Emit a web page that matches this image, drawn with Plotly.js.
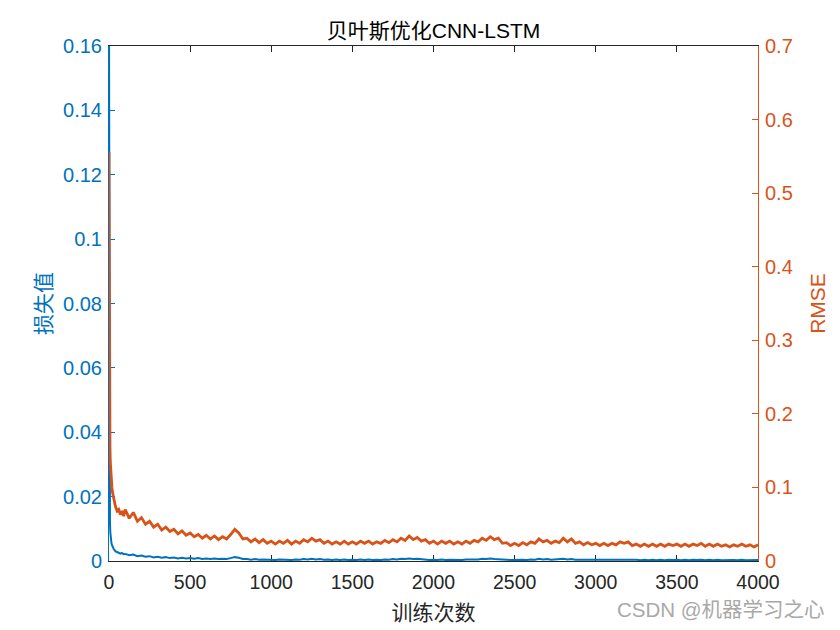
<!DOCTYPE html>
<html>
<head>
<meta charset="utf-8">
<script src="https://cdn.plot.ly/plotly-3.0.1.min.js"></script>
<style>html,body{margin:0;padding:0;background:#fff;}#chart{width:840px;height:630px;}</style>
</head>
<body>
<div id="chart"></div>
<script>
// Training iterations (x values)
const iterations = [
  0,1,2,3,4,5,6,8,10,12,15,18,21,25,30,35,40,50,60,70,80,90,
  100,125,150,175,200,225,250,275,300,325,350,375,400,425,450,475,500,525,550,575,
  600,625,650,675,700,725,750,775,800,825,850,875,900,925,950,975,1000,1025,1050,1075,
  1100,1125,1150,1175,1200,1225,1250,1275,1300,1325,1350,1375,1400,1425,1450,1475,1500,1525,1550,1575,
  1600,1625,1650,1675,1700,1725,1750,1775,1800,1825,1850,1875,1900,1925,1950,1975,2000,2025,2050,2075,
  2100,2125,2150,2175,2200,2225,2250,2275,2300,2325,2350,2375,2400,2425,2450,2475,2500,2525,2550,2575,
  2600,2625,2650,2675,2700,2725,2750,2775,2800,2825,2850,2875,2900,2925,2950,2975,3000,3025,3050,3075,
  3100,3125,3150,3175,3200,3225,3250,3275,3300,3325,3350,3375,3400,3425,3450,3475,3500,3525,3550,3575,
  3600,3625,3650,3675,3700,3725,3750,3775,3800,3825,3850,3875,3900,3925,3950,3975,4000
];
// Loss values (left axis)
const lossValues = [
  0.17,0.07,0.04,0.028,0.02,0.015,0.012,0.009,0.0075,0.0065,0.0056,0.005,0.0045,0.0041,0.0036,0.0034,0.003,0.0028,0.0026,0.0023,0.0025,0.0021,
  0.0022,0.0018,0.0020,0.0015,0.0017,0.0013,0.0015,0.0011,0.0013,0.0010,0.0012,0.0009,0.0011,0.0008,0.0010,0.0008,0.0009,0.0007,0.0009,0.0006,
  0.0008,0.0006,0.0008,0.0006,0.0007,0.0006,0.0009,0.0012,0.0010,0.0006,0.0006,0.0004,0.0006,0.0004,0.0005,0.0004,0.0005,0.0003,0.0005,0.0004,
  0.0005,0.0003,0.0005,0.0004,0.0006,0.0005,0.0007,0.0005,0.0006,0.0004,0.0005,0.0003,0.0005,0.0003,0.0005,0.0003,0.0004,0.0003,0.0005,0.0003,
  0.0005,0.0003,0.0004,0.0003,0.0005,0.0004,0.0006,0.0005,0.0007,0.0006,0.0008,0.0006,0.0007,0.0005,0.0005,0.0003,0.0004,0.0003,0.0005,0.0003,
  0.0004,0.0003,0.0004,0.0003,0.0005,0.0004,0.0005,0.0005,0.0007,0.0006,0.0008,0.0006,0.0006,0.0004,0.0004,0.0003,0.0004,0.0003,0.0004,0.0003,
  0.0005,0.0004,0.0007,0.0005,0.0006,0.0004,0.0005,0.0004,0.0007,0.0005,0.0006,0.0004,0.0004,0.0003,0.0004,0.0003,0.0004,0.0003,0.0004,0.0003,
  0.0004,0.0003,0.0005,0.0004,0.0005,0.0003,0.0004,0.0002,0.0004,0.0002,0.0004,0.0002,0.0004,0.0002,0.0004,0.0003,0.0004,0.0002,0.0004,0.0002,
  0.0004,0.0003,0.0004,0.0002,0.0004,0.0002,0.0004,0.0002,0.0003,0.0002,0.0003,0.0002,0.0004,0.0002,0.0003,0.0002,0.0003
];
// RMSE values (right axis)
const rmseValues = [
  0.556,0.40,0.30,0.24,0.20,0.17,0.155,0.135,0.125,0.118,0.108,0.100,0.094,0.088,0.083,0.079,0.074,0.068,0.070,0.063,0.068,0.061,
  0.070,0.058,0.066,0.054,0.059,0.050,0.054,0.046,0.050,0.042,0.046,0.040,0.043,0.037,0.041,0.035,0.038,0.033,0.036,0.031,
  0.035,0.030,0.034,0.029,0.033,0.030,0.036,0.043,0.038,0.030,0.031,0.026,0.030,0.025,0.029,0.024,0.027,0.023,0.027,0.024,
  0.028,0.023,0.027,0.024,0.029,0.026,0.031,0.027,0.029,0.024,0.027,0.023,0.026,0.023,0.027,0.023,0.026,0.023,0.027,0.024,
  0.027,0.023,0.026,0.024,0.028,0.025,0.029,0.026,0.031,0.028,0.034,0.029,0.032,0.027,0.029,0.024,0.027,0.023,0.027,0.024,
  0.027,0.023,0.026,0.023,0.027,0.024,0.028,0.026,0.031,0.028,0.033,0.029,0.031,0.024,0.025,0.021,0.024,0.021,0.025,0.022,
  0.026,0.024,0.030,0.026,0.028,0.024,0.027,0.025,0.031,0.026,0.030,0.024,0.026,0.022,0.025,0.022,0.024,0.021,0.024,0.021,
  0.024,0.022,0.026,0.024,0.026,0.021,0.023,0.020,0.023,0.020,0.023,0.020,0.023,0.020,0.023,0.021,0.023,0.020,0.023,0.020,
  0.023,0.021,0.024,0.020,0.023,0.020,0.023,0.020,0.022,0.019,0.022,0.020,0.023,0.020,0.022,0.019,0.022
];
const xTickVals = [0,500,1000,1500,2000,2500,3000,3500,4000];
const xTickText = ['0','500','1000','1500','2000','2500','3000','3500','4000'];
const lossTickVals = [0,0.02,0.04,0.06,0.08,0.1,0.12,0.14,0.16];
const lossTickText = ['0','0.02','0.04','0.06','0.08','0.1','0.12','0.14','0.16'];
const rmseTickVals = [0,0.1,0.2,0.3,0.4,0.5,0.6,0.7];
const rmseTickText = ['0','0.1','0.2','0.3','0.4','0.5','0.6','0.7'];

const BLUE = '#0072BD', ORANGE = '#D95319', DARK = '#262626';
const FONT = 'Liberation Sans, Arial, Noto Sans CJK SC, sans-serif';

const traces = [
  {x: iterations, y: lossValues, type: 'scatter', mode: 'lines', yaxis: 'y',
   line: {color: BLUE, width: 2}, showlegend: false, hoverinfo: 'skip'},
  {x: iterations, y: rmseValues, type: 'scatter', mode: 'lines', yaxis: 'y2',
   line: {color: ORANGE, width: 2.8}, showlegend: false, hoverinfo: 'skip'}
];

const layout = {
  width: 840, height: 630,
  margin: {l: 109, r: 82, t: 46, b: 69, pad: 0},
  paper_bgcolor: '#ffffff', plot_bgcolor: '#ffffff',
  font: {family: FONT, size: 19, color: DARK},
  title: {text: '贝叶斯优化CNN-LSTM', font: {family: FONT, size: 21, color: '#000000'},
          x: 0.5, xanchor: 'center', xref: 'paper', y: 0.951, yanchor: 'middle'},
  xaxis: {
    range: [0, 4000], tickvals: xTickVals, ticktext: xTickText,
    ticks: 'inside', ticklen: 6, tickcolor: DARK, tickwidth: 1,
    showline: true, linecolor: DARK, linewidth: 1, mirror: 'ticks',
    showgrid: false, zeroline: false, layer: 'below traces',
    ticklabelstandoff: 4,
    tickfont: {family: FONT, size: 19.5, color: DARK},
    title: {text: '训练次数', font: {family: FONT, size: 21, color: DARK}, standoff: 12}
  },
  yaxis: {
    range: [0, 0.16], tickvals: lossTickVals, ticktext: lossTickText,
    ticks: 'inside', ticklen: 6, tickcolor: BLUE, tickwidth: 1,
    showline: true, linecolor: BLUE, linewidth: 1,
    showgrid: false, zeroline: false, layer: 'below traces',
    ticklabelstandoff: 2,
    tickfont: {family: FONT, size: 20, color: BLUE},
    title: {text: '损失值', font: {family: FONT, size: 21, color: BLUE}, standoff: 5}
  },
  yaxis2: {
    range: [0, 0.7], tickvals: rmseTickVals, ticktext: rmseTickText,
    overlaying: 'y', side: 'right',
    ticks: 'inside', ticklen: 6, tickcolor: ORANGE, tickwidth: 1,
    showline: true, linecolor: ORANGE, linewidth: 1,
    showgrid: false, zeroline: false, layer: 'below traces',
    ticklabelstandoff: 2,
    tickfont: {family: FONT, size: 20, color: ORANGE},
    title: {text: 'RMSE', font: {family: FONT, size: 21, color: ORANGE}, standoff: 18}
  },
  annotations: [
    {text: 'CSDN @机器学习之心', xref: 'paper', yref: 'paper', x: 1.106, y: -0.095,
     xanchor: 'right', yanchor: 'middle', showarrow: false,
     font: {family: FONT, size: 20.5, color: '#a8a8a8'}}
  ]
};

Plotly.newPlot('chart', traces, layout, {staticPlot: true, displayModeBar: false});
</script>
</body>
</html>
